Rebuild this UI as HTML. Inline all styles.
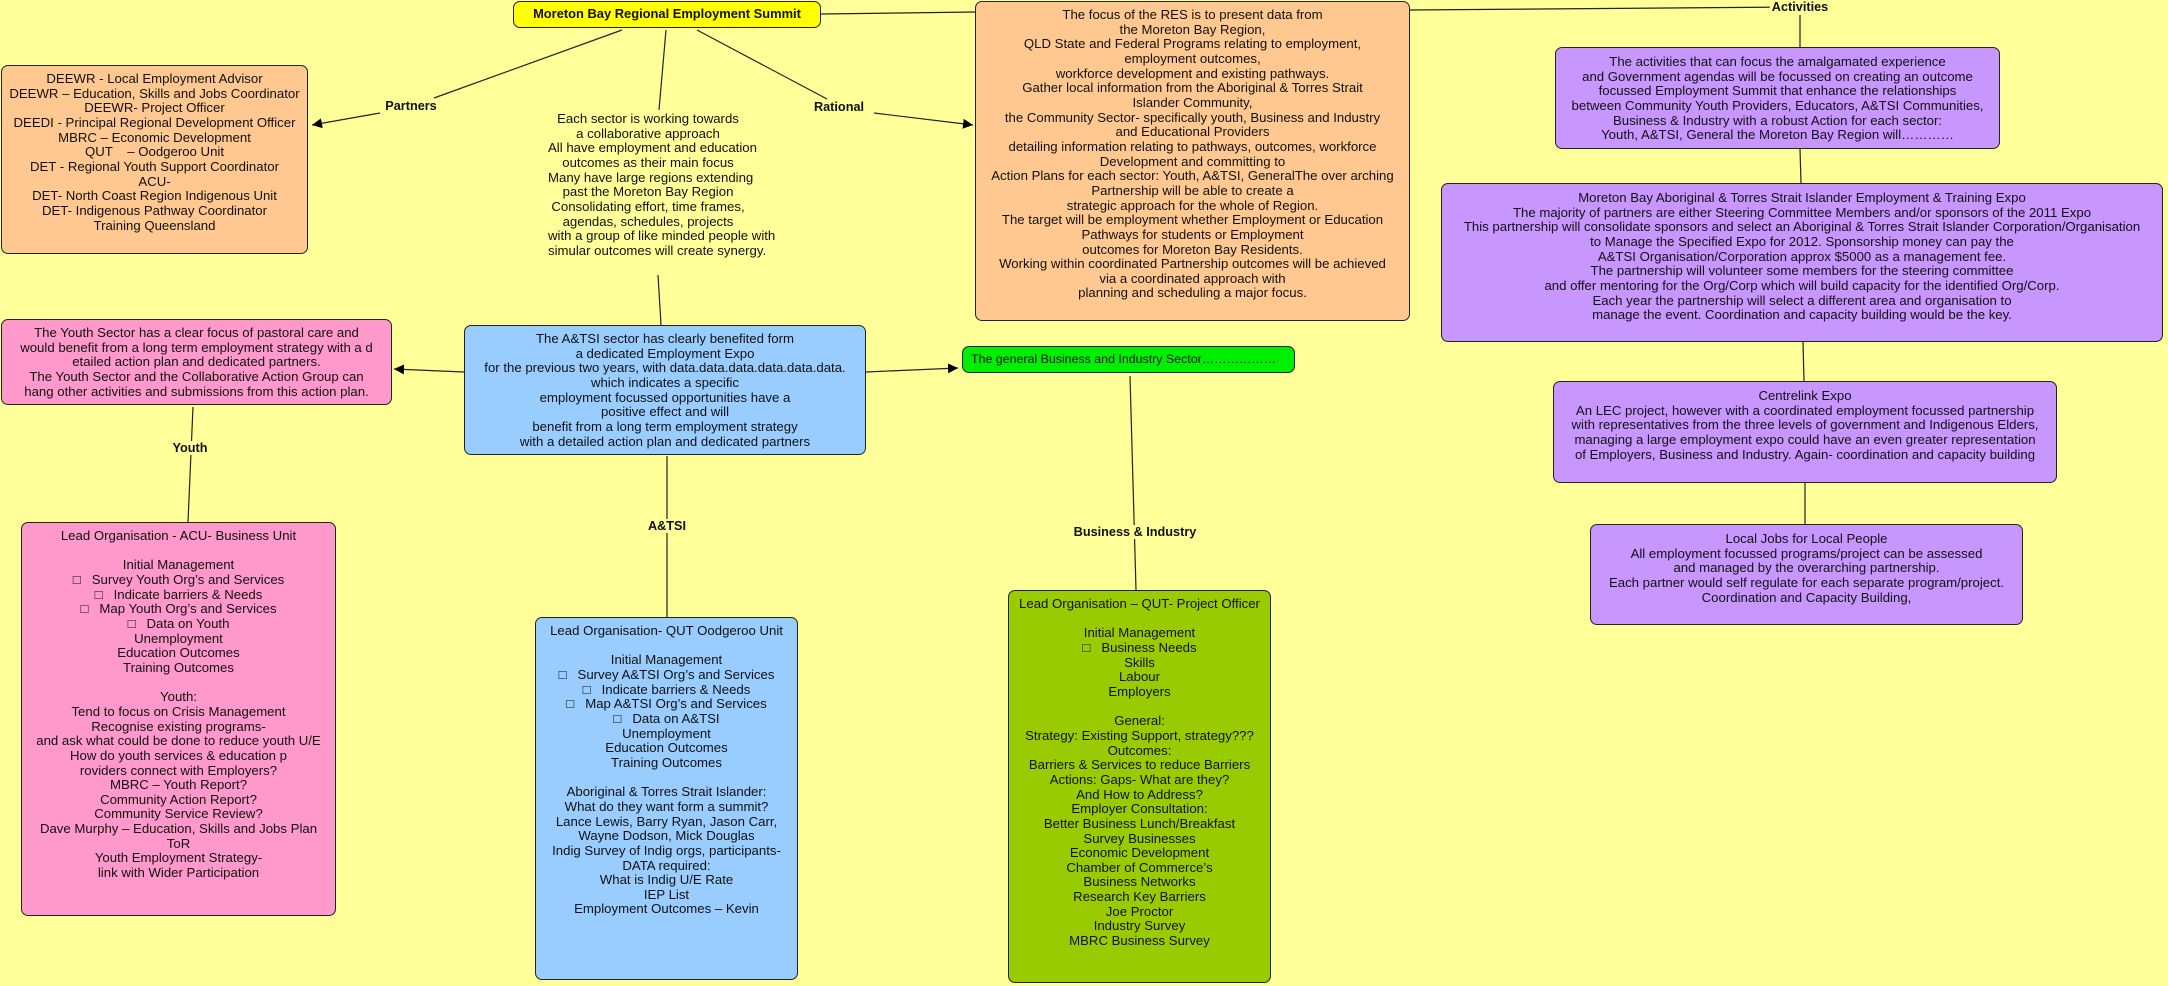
<!DOCTYPE html>
<html><head><meta charset="utf-8"><style>
html,body{margin:0;padding:0;}
body{width:2168px;height:986px;background:#ffff99;position:relative;overflow:hidden;font-family:"Liberation Sans",sans-serif;font-size:13.2px;color:#111;}
.b{position:absolute;box-sizing:border-box;border:1px solid #222;border-radius:7px;text-align:center;line-height:14.65px;padding-top:6px;white-space:nowrap;}
.t{position:absolute;text-align:center;line-height:14.65px;white-space:nowrap;}
.l{position:absolute;font-weight:bold;font-size:12.7px;background:#ffff99;padding:0 2px;white-space:nowrap;transform:translate(-50%,-50%);}
svg{position:absolute;left:0;top:0;}
</style></head><body>
<svg width="2168" height="986">
<defs><marker id="a" viewBox="0 0 10 10" refX="10" refY="5" markerWidth="10" markerHeight="10" orient="auto" markerUnits="userSpaceOnUse"><path d="M0,0L10,5L0,10z" fill="#000"/></marker></defs>
<g stroke="#222" stroke-width="1.2" fill="none">
<line x1="821" y1="14" x2="975" y2="12"/>
<line x1="1410" y1="10" x2="1800" y2="7"/>
<line x1="1800" y1="15" x2="1800" y2="47"/>
<line x1="1800" y1="149" x2="1801" y2="183"/>
<line x1="1803" y1="342" x2="1804" y2="381"/>
<line x1="1805" y1="483" x2="1805" y2="524"/>
<line x1="622" y1="30" x2="434" y2="98"/>
<line x1="380" y1="113" x2="312" y2="125" marker-end="url(#a)"/>
<line x1="666" y1="30" x2="659" y2="110"/>
<line x1="697" y1="30" x2="827" y2="99"/>
<line x1="874" y1="113" x2="973" y2="125" marker-end="url(#a)"/>
<line x1="658" y1="275" x2="661" y2="325"/>
<line x1="464" y1="372" x2="394" y2="369" marker-end="url(#a)"/>
<line x1="866" y1="372" x2="958" y2="368" marker-end="url(#a)"/>
<line x1="193" y1="407" x2="188" y2="522"/>
<line x1="667" y1="456" x2="667" y2="617"/>
<line x1="1130" y1="376" x2="1136" y2="590"/>
</g></svg>

<div class="b" style="left:513px;top:1px;width:308px;height:27px;background:#ffff00;font-weight:bold;font-size:12.9px;padding-top:5px;">Moreton Bay Regional Employment Summit</div>

<div class="l" style="left:411px;top:106px;">Partners</div>
<div class="l" style="left:839px;top:107px;">Rational</div>
<div class="l" style="left:1800px;top:7px;">Activities</div>
<div class="l" style="left:190px;top:448px;">Youth</div>
<div class="l" style="left:667px;top:526px;">A&amp;TSI</div>
<div class="l" style="left:1135px;top:532px;">Business &amp; Industry</div>

<div class="b" style="left:1px;top:65px;width:307px;height:189px;background:#ffc891;">DEEWR - Local Employment Advisor<br>DEEWR – Education, Skills and Jobs Coordinator<br>DEEWR- Project Officer<br>DEEDI - Principal Regional Development Officer<br>MBRC – Economic Development<br>QUT &nbsp;&nbsp;&nbsp;– Oodgeroo Unit<br>DET - Regional Youth Support Coordinator<br>ACU-<br>DET- North Coast Region Indigenous Unit<br>DET- Indigenous Pathway Coordinator<br>Training Queensland</div>

<div class="t" style="left:548px;top:112px;width:200px;">Each sector is working towards<br>a collaborative approach<br>All have employment and education<br>outcomes as their main focus<br>Many have large regions extending<br>past the Moreton Bay Region<br>Consolidating effort, time frames,<br>agendas, schedules, projects<br>with a group of like minded people with<br>simular outcomes will create synergy.</div>

<div class="b" style="left:975px;top:1px;width:435px;height:320px;background:#ffc891;">The focus of the RES is to present data from<br>the Moreton Bay Region,<br>QLD State and Federal Programs relating to employment,<br>employment outcomes,<br>workforce development and existing pathways.<br>Gather local information from the Aboriginal &amp; Torres Strait<br>Islander Community,<br>the Community Sector- specifically youth, Business and Industry<br>and Educational Providers<br>detailing information relating to pathways, outcomes, workforce<br>Development and committing to<br>Action Plans for each sector: Youth, A&amp;TSI, GeneralThe over arching<br>Partnership will be able to create a<br>strategic approach for the whole of Region.<br>The target will be employment whether Employment or Education<br>Pathways for students or Employment<br>outcomes for Moreton Bay Residents.<br>Working within coordinated Partnership outcomes will be achieved<br>via a coordinated approach with<br>planning and scheduling a major focus.</div>

<div class="b" style="left:1555px;top:47px;width:445px;height:102px;background:#c896ff;padding-top:7px;">The activities that can focus the amalgamated experience<br>and Government agendas will be focussed on creating an outcome<br>focussed Employment Summit that enhance the relationships<br>between Community Youth Providers, Educators, A&amp;TSI Communities,<br>Business &amp; Industry with a robust Action for each sector:<br>Youth, A&amp;TSI, General the Moreton Bay Region will…………</div>

<div class="b" style="left:1441px;top:183px;width:722px;height:159px;background:#c896ff;padding-top:7px;">Moreton Bay Aboriginal &amp; Torres Strait Islander Employment &amp; Training Expo<br>The majority of partners are either Steering Committee Members and/or sponsors of the 2011 Expo<br>This partnership will consolidate sponsors and select an Aboriginal &amp; Torres Strait Islander Corporation/Organisation<br>to Manage the Specified Expo for 2012. Sponsorship money can pay the<br>A&amp;TSI Organisation/Corporation approx $5000 as a management fee.<br>The partnership will volunteer some members for the steering committee<br>and offer mentoring for the Org/Corp which will build capacity for the identified Org/Corp.<br>Each year the partnership will select a different area and organisation to<br>manage the event. Coordination and capacity building would be the key.</div>

<div class="b" style="left:1553px;top:381px;width:504px;height:102px;background:#c896ff;padding-top:7px;">Centrelink Expo<br>An LEC project, however with a coordinated employment focussed partnership<br>with representatives from the three levels of government and Indigenous Elders,<br>managing a large employment expo could have an even greater representation<br>of Employers, Business and Industry. Again- coordination and capacity building</div>

<div class="b" style="left:1590px;top:524px;width:433px;height:101px;background:#c896ff;padding-top:7px;">Local Jobs for Local People<br>All employment focussed programs/project can be assessed<br>and managed by the overarching partnership.<br>Each partner would self regulate for each separate program/project.<br>Coordination and Capacity Building,</div>

<div class="b" style="left:962px;top:346px;width:333px;height:27px;background:#00ee00;text-align:left;padding-left:8px;padding-top:5px;font-size:12.4px;overflow:hidden;">The general Business and Industry Sector………………</div>

<div class="b" style="left:464px;top:325px;width:402px;height:130px;background:#99ccff;">The A&amp;TSI sector has clearly benefited form<br>a dedicated Employment Expo<br>for the previous two years, with data.data.data.data.data.data.<br>which indicates a specific<br>employment focussed opportunities have a<br>positive effect and will<br>benefit from a long term employment strategy<br>with a detailed action plan and dedicated partners</div>

<div class="b" style="left:1px;top:319px;width:391px;height:86px;background:#ff99cc;">The Youth Sector has a clear focus of pastoral care and<br>would benefit from a long term employment strategy with a d<br>etailed action plan and dedicated partners.<br>The Youth Sector and the Collaborative Action Group can<br>hang other activities and submissions from this action plan.</div>

<div class="b" style="left:21px;top:522px;width:315px;height:394px;background:#ff99cc;">Lead Organisation - ACU- Business Unit<br><br>Initial Management<br>□ &nbsp;&nbsp;Survey Youth Org’s and Services<br>□ &nbsp;&nbsp;Indicate barriers &amp; Needs<br>□ &nbsp;&nbsp;Map Youth Org’s and Services<br>□ &nbsp;&nbsp;Data on Youth<br>Unemployment<br>Education Outcomes<br>Training Outcomes<br><br>Youth:<br>Tend to focus on Crisis Management<br>Recognise existing programs-<br>and ask what could be done to reduce youth U/E<br>How do youth services &amp; education p<br>roviders connect with Employers?<br>MBRC – Youth Report?<br>Community Action Report?<br>Community Service Review?<br>Dave Murphy – Education, Skills and Jobs Plan<br>ToR<br>Youth Employment Strategy-<br>link with Wider Participation</div>

<div class="b" style="left:535px;top:617px;width:263px;height:363px;background:#99ccff;">Lead Organisation- QUT Oodgeroo Unit<br><br>Initial Management<br>□ &nbsp;&nbsp;Survey A&amp;TSI Org’s and Services<br>□ &nbsp;&nbsp;Indicate barriers &amp; Needs<br>□ &nbsp;&nbsp;Map A&amp;TSI Org’s and Services<br>□ &nbsp;&nbsp;Data on A&amp;TSI<br>Unemployment<br>Education Outcomes<br>Training Outcomes<br><br>Aboriginal &amp; Torres Strait Islander:<br>What do they want form a summit?<br>Lance Lewis, Barry Ryan, Jason Carr,<br>Wayne Dodson, Mick Douglas<br>Indig Survey of Indig orgs, participants-<br>DATA required:<br>What is Indig U/E Rate<br>IEP List<br>Employment Outcomes – Kevin</div>

<div class="b" style="left:1008px;top:590px;width:263px;height:393px;background:#99cc00;">Lead Organisation – QUT- Project Officer<br><br>Initial Management<br>□ &nbsp;&nbsp;Business Needs<br>Skills<br>Labour<br>Employers<br><br>General:<br>Strategy: Existing Support, strategy???<br>Outcomes:<br>Barriers &amp; Services to reduce Barriers<br>Actions: Gaps- What are they?<br>And How to Address?<br>Employer Consultation:<br>Better Business Lunch/Breakfast<br>Survey Businesses<br>Economic Development<br>Chamber of Commerce’s<br>Business Networks<br>Research Key Barriers<br>Joe Proctor<br>Industry Survey<br>MBRC Business Survey</div>
</body></html>
